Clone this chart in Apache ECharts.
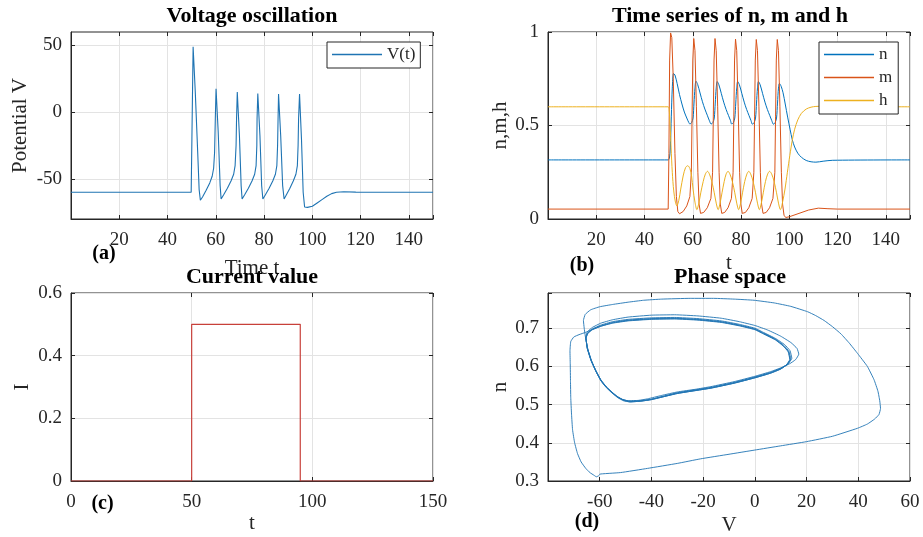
<!DOCTYPE html>
<html>
<head>
<meta charset="utf-8">
<script src="https://cdn.jsdelivr.net/npm/echarts@6/dist/echarts.min.js"></script>
<style>
  html, body { margin: 0; padding: 0; background: #fff; }
  #chart { width: 923px; height: 537px; }
</style>
</head>
<body>
<div id="chart"></div>
<script>
// (a) membrane potential V(t) as [t, V]
const voltage = [
  [0, -60], [49.8, -60], [50.1, -20], [50.6, 49], [51.5, 15], [52.5, -30], [53.1, -58], [53.6, -66],
  [54.5, -63.5], [56, -58.5], [57.5, -53], [58.5, -48], [59.1, -42], [59.5, -30], [59.8, -5], [60.1, 17.5],
  [61, -15], [61.8, -55], [62.2, -65],
  [63.2, -62], [64.8, -57], [66.3, -51.5], [67.4, -46.5], [68, -40], [68.4, -25], [68.6, -5], [68.9, 15],
  [69.8, -18], [70.5, -55], [70.9, -65],
  [71.9, -62], [73.5, -57], [75, -51.5], [76.1, -46.5], [76.7, -40], [77, -25], [77.1, -5], [77.4, 14],
  [78.3, -18], [79, -55], [79.5, -65],
  [80.5, -62], [82.1, -57], [83.6, -51.5], [84.7, -46.5], [85.3, -40], [85.6, -25], [85.8, -5], [86, 13.5],
  [86.9, -18], [87.7, -55], [88.3, -65],
  [89.2, -62], [90.7, -57], [92.1, -51.5], [93.2, -46.5], [93.8, -40], [94.1, -25], [94.3, -5], [94.7, 13.5],
  [95.5, -20], [96.2, -60], [96.8, -71], [98, -71.3], [100, -70.5], [102, -68], [104, -65.5], [106, -63],
  [108, -61], [110, -60], [113, -59.6], [118, -59.9], [150, -60]
];

// (b) gating variables [t, value]
const gateN = [
  [0, 0.316], [49.8, 0.316], [50.3, 0.325], [50.7, 0.38], [51.1, 0.55], [51.5, 0.7], [52, 0.778], [52.6, 0.77],
  [53.5, 0.725], [54.5, 0.665], [55.5, 0.615], [56.5, 0.572], [57.5, 0.54], [58.3, 0.517], [58.8, 0.508],
  [59.5, 0.515], [60.1, 0.54], [60.5, 0.62], [60.9, 0.7], [61.3, 0.737],
  [62, 0.72], [63, 0.674], [64, 0.627], [65, 0.588], [66, 0.555], [66.9, 0.525], [67.6, 0.508], [68.3, 0.515],
  [68.9, 0.54], [69.3, 0.62], [69.7, 0.7], [70.1, 0.735],
  [70.8, 0.718], [71.8, 0.672], [72.8, 0.625], [73.8, 0.586], [74.8, 0.553], [75.6, 0.527], [76.1, 0.508],
  [76.8, 0.515], [77.4, 0.54], [77.8, 0.62], [78.2, 0.7], [78.6, 0.735],
  [79.3, 0.718], [80.3, 0.672], [81.3, 0.625], [82.3, 0.586], [83.3, 0.553], [84.1, 0.527], [84.7, 0.507],
  [85.4, 0.515], [86, 0.54], [86.4, 0.62], [86.8, 0.7], [87.2, 0.735],
  [87.9, 0.718], [88.9, 0.672], [89.9, 0.625], [90.9, 0.586], [91.9, 0.553], [92.7, 0.527], [93.4, 0.507],
  [94.1, 0.515], [94.7, 0.54], [95.1, 0.62], [95.5, 0.7], [95.9, 0.725],
  [96.6, 0.71], [97.4, 0.675], [98.3, 0.615], [99.3, 0.545], [100.3, 0.48], [101.2, 0.425], [102.2, 0.385],
  [103.5, 0.352], [105, 0.33], [107, 0.313], [109, 0.306], [111, 0.304], [114, 0.309], [118, 0.314], [150, 0.316]
];

const gateM = [
  [0, 0.053], [49.8, 0.053], [50.1, 0.35], [50.4, 0.85], [50.8, 0.995], [51.3, 0.97], [51.9, 0.75], [52.6, 0.35],
  [53.2, 0.12], [53.8, 0.04], [54.5, 0.028], [56, 0.04], [57.5, 0.07], [58.8, 0.12],
  [59.4, 0.25], [59.7, 0.55], [60, 0.85], [60.4, 0.965], [60.9, 0.9], [61.5, 0.6], [62.1, 0.25], [62.6, 0.08],
  [63.2, 0.03], [64.5, 0.035], [66, 0.06], [67.5, 0.11],
  [68.2, 0.25], [68.5, 0.55], [68.8, 0.85], [69.2, 0.965], [69.7, 0.9], [70.3, 0.6], [70.9, 0.25], [71.4, 0.08],
  [72, 0.03], [73.2, 0.035], [74.6, 0.06], [76, 0.11],
  [76.7, 0.25], [77, 0.55], [77.3, 0.85], [77.7, 0.962], [78.2, 0.9], [78.8, 0.6], [79.4, 0.25], [79.9, 0.08],
  [80.5, 0.03], [81.8, 0.035], [83.2, 0.06], [84.6, 0.11],
  [85.3, 0.25], [85.6, 0.55], [85.9, 0.85], [86.3, 0.96], [86.8, 0.9], [87.4, 0.6], [88, 0.25], [88.5, 0.08],
  [89.1, 0.03], [90.4, 0.035], [91.8, 0.06], [93.2, 0.11],
  [94, 0.25], [94.3, 0.55], [94.6, 0.85], [95, 0.96], [95.5, 0.9], [96.1, 0.6], [96.7, 0.25], [97.2, 0.08],
  [97.8, 0.02], [98.5, 0.008], [100, 0.012], [104, 0.03], [108, 0.048], [112, 0.058], [116, 0.055], [120, 0.053], [150, 0.053]
];

const gateH = [
  [0, 0.6], [49.8, 0.6], [50.2, 0.585], [50.6, 0.5], [51, 0.38], [51.5, 0.25], [52.1, 0.15], [52.8, 0.09], [53.4, 0.07],
  [54.2, 0.1], [55, 0.16], [56, 0.23], [57, 0.275], [57.9, 0.285], [58.8, 0.27], [59.5, 0.23], [60.1, 0.16], [60.9, 0.09], [61.7, 0.05],
  [62.5, 0.085], [63.3, 0.14], [64.3, 0.2], [65.2, 0.24], [66.1, 0.255], [66.9, 0.24], [67.9, 0.2], [68.9, 0.14], [69.7, 0.085], [70.5, 0.05],
  [71.3, 0.085], [72.1, 0.14], [73, 0.2], [73.8, 0.24], [74.6, 0.255], [75.4, 0.24], [76.4, 0.2], [77.4, 0.14], [78.2, 0.085], [79, 0.05],
  [79.8, 0.085], [80.6, 0.14], [81.5, 0.2], [82.4, 0.24], [83.2, 0.255], [84, 0.24], [85, 0.2], [86, 0.14], [86.8, 0.085], [87.6, 0.05],
  [88.4, 0.085], [89.2, 0.14], [90.1, 0.2], [91, 0.24], [91.8, 0.255], [92.7, 0.24], [93.7, 0.2], [94.7, 0.14], [95.5, 0.085], [96.3, 0.05],
  [97.2, 0.09], [98.2, 0.16], [99.2, 0.25], [100.2, 0.34], [101.2, 0.42], [102.2, 0.48], [103.5, 0.53], [105, 0.565],
  [107, 0.588], [109, 0.598], [111, 0.602], [114, 0.603], [118, 0.601], [150, 0.6]
];

// (c) applied current, a step
const currentT = [0, 50, 50, 95, 95, 150];
const currentI = [0, 0, 0.5, 0.5, 0, 0];

// (d) trajectory in the (V, n) plane, in time order
const phase = [
  [-60, 0.316], [-60, 0.318], [-52, 0.322], [-41.5, 0.333], [-30, 0.346], [-21, 0.358], [-10, 0.37], [0, 0.381],
  [10, 0.392], [20, 0.403], [30, 0.417], [39.7, 0.438], [43.5, 0.449], [46.3, 0.462], [48, 0.474], [48.6, 0.49],
  [48.3, 0.51], [47.6, 0.535], [46.1, 0.565], [43.5, 0.6], [39.7, 0.634], [36.5, 0.661], [33.3, 0.685], [30, 0.704],
  [26.8, 0.72], [23.5, 0.733], [20.4, 0.743], [13.9, 0.757], [7.5, 0.766], [-0.3, 0.773], [-8, 0.776], [-16, 0.778],
  [-25, 0.778], [-36, 0.776], [-43, 0.773], [-49, 0.768], [-55, 0.762], [-60, 0.756], [-63.5, 0.748], [-65.6, 0.736],
  [-66.3, 0.72], [-66, 0.7], [-65.6, 0.68],
  // loop 2
  [-64.6, 0.645], [-63.2, 0.615], [-61.5, 0.588], [-59.6, 0.563], [-57.6, 0.546], [-55.5, 0.533], [-53.5, 0.522],
  [-51.5, 0.514], [-49, 0.51], [-45, 0.511], [-41.5, 0.515], [-36, 0.524], [-30, 0.533], [-23, 0.54], [-17, 0.547],
  [-8, 0.56], [0, 0.574], [6, 0.586], [10, 0.596], [13.5, 0.607], [15.8, 0.618], [17, 0.632],
  [16.3, 0.647], [14, 0.662], [10, 0.679], [5, 0.695], [0, 0.707], [-6, 0.717], [-13, 0.726], [-22, 0.732],
  [-31, 0.735], [-40, 0.734], [-49, 0.729], [-55, 0.722], [-59.6, 0.713], [-62.8, 0.702], [-64.7, 0.691], [-65.4, 0.678],
  // loop 3
  [-64.8, 0.65], [-63.4, 0.618], [-61.6, 0.59], [-59.6, 0.565], [-57.5, 0.547], [-55.3, 0.533], [-53.2, 0.521],
  [-51, 0.513], [-48.5, 0.509], [-44, 0.51], [-40, 0.514], [-30, 0.531], [-17, 0.545], [-8, 0.558], [0, 0.572],
  [6, 0.584], [10, 0.595], [12.8, 0.606], [14.3, 0.621],
  [13.6, 0.641], [11.5, 0.657], [8, 0.673], [3, 0.69], [0, 0.7], [-6, 0.71], [-13, 0.719], [-22, 0.725], [-31, 0.728],
  [-40, 0.727], [-49, 0.723], [-55, 0.717], [-59.6, 0.708], [-62.8, 0.698], [-64.6, 0.688], [-65.3, 0.675],
  // loop 4
  [-64.8, 0.648], [-63.3, 0.616], [-61.5, 0.589], [-59.5, 0.564], [-57.4, 0.546], [-55.2, 0.532], [-53, 0.52],
  [-50.8, 0.512], [-48.3, 0.508], [-44, 0.51], [-40, 0.514], [-30, 0.53], [-17, 0.544], [-8, 0.557], [0, 0.571],
  [6, 0.583], [10, 0.594], [12.5, 0.605], [13.9, 0.619],
  [13.2, 0.639], [11.2, 0.655], [8, 0.671], [3, 0.688], [0, 0.698], [-6, 0.708], [-13, 0.717], [-22, 0.723],
  [-31, 0.726], [-40, 0.725], [-49, 0.721], [-55, 0.715], [-59.6, 0.706], [-62.8, 0.697], [-64.6, 0.687], [-65.3, 0.674],
  // loop 5
  [-64.8, 0.647], [-63.3, 0.615], [-61.5, 0.588], [-59.5, 0.563], [-57.4, 0.545], [-55.2, 0.531], [-53, 0.519],
  [-50.8, 0.511], [-48.3, 0.507], [-44, 0.509], [-40, 0.513], [-30, 0.529], [-17, 0.543], [-8, 0.556], [0, 0.57],
  [6, 0.582], [10, 0.593], [12.3, 0.604], [13.6, 0.618],
  [13, 0.638], [11, 0.654], [8, 0.67], [3, 0.687], [0, 0.697], [-6, 0.707], [-13, 0.716], [-22, 0.722], [-31, 0.725],
  [-40, 0.724], [-49, 0.72], [-55, 0.714], [-59.6, 0.705], [-62.8, 0.696], [-64.6, 0.686], [-65.3, 0.673],
  // loop 6 and recovery
  [-64.8, 0.646], [-63.3, 0.614], [-61.5, 0.587], [-59.5, 0.562], [-57.4, 0.544], [-55.2, 0.53], [-53, 0.518],
  [-50.8, 0.51], [-48.3, 0.507], [-44, 0.509], [-40, 0.513], [-30, 0.529], [-17, 0.543], [-8, 0.556], [0, 0.57],
  [6, 0.582], [10, 0.593], [12.2, 0.604], [13.5, 0.618],
  [12.9, 0.638], [11, 0.653], [8, 0.669], [3, 0.686], [0, 0.696], [-6, 0.706], [-13, 0.715], [-22, 0.721], [-31, 0.724],
  [-40, 0.723], [-49, 0.719], [-55, 0.713], [-59.6, 0.705], [-63, 0.696], [-65.5, 0.689], [-68, 0.683], [-70, 0.677],
  [-71.2, 0.665], [-71.5, 0.64], [-71.4, 0.607], [-71.3, 0.56], [-71.2, 0.519], [-70.9, 0.475], [-70.5, 0.434],
  [-69.7, 0.4], [-68.6, 0.372], [-67.2, 0.35], [-65.4, 0.333], [-63.8, 0.322], [-62.2, 0.315], [-61.3, 0.311],
  [-60.6, 0.313], [-60.2, 0.315], [-60, 0.316]
];

// tick labels
const timeTicksA = [20, 40, 60, 80, 100, 120, 140];
const voltTicks = [-50, 0, 50];

const FONT = '"Liberation Serif", "Times New Roman", serif';
const INK = '#262626';
const GRIDLINE = '#e3e3e3';

function axis(o) {
  return {
    type: 'value',
    gridIndex: o.grid,
    min: o.min,
    max: o.max,
    interval: o.interval,
    name: o.name,
    nameLocation: 'middle',
    nameGap: o.gap,
    nameTextStyle: { color: INK, fontFamily: FONT, fontSize: 21 },
    axisLine: { show: true, onZero: false, lineStyle: { color: INK, width: 1 } },
    axisTick: { show: true, inside: true, length: 4, lineStyle: { color: INK }, customValues: o.ticks },
    splitLine: { show: true, lineStyle: { color: GRIDLINE, width: 1 } },
    axisLabel: {
      color: INK, fontFamily: FONT, fontSize: 19, margin: o.margin,
      formatter: o.fmt, customValues: o.ticks
    }
  };
}

// mirror axis on the opposite side: only inward ticks, like a boxed plot
function mirror(o, pos) {
  return {
    type: 'value', gridIndex: o.grid, position: pos,
    min: o.min, max: o.max, interval: o.interval,
    axisLine: { show: false, onZero: false },
    axisTick: { show: true, inside: true, length: 4, lineStyle: { color: INK }, customValues: o.ticks },
    splitLine: { show: false },
    axisLabel: { show: false }
  };
}

function line(name, data, x, y, color, width, smooth) {
  return {
    name: name, type: 'line', xAxisIndex: x, yAxisIndex: y, data: data,
    symbol: 'none', showSymbol: false, smooth: smooth || false, clip: true,
    lineStyle: { color: color, width: width }, itemStyle: { color: color },
    emphasis: { disabled: true }, animation: false
  };
}

function text(str, x, y, bold, size) {
  return {
    type: 'text', x: x, y: y, z: 50,
    style: {
      text: str, fill: '#000', align: 'center', verticalAlign: 'middle',
      font: (bold ? 'bold ' : '') + size + 'px ' + FONT
    }
  };
}

const xs = [
  { grid: 0, min: 0, max: 150, interval: 20, name: 'Time t', gap: 39, margin: 12,
    fmt: function (v) { return timeTicksA.indexOf(v) >= 0 ? String(v) : ''; } },
  { grid: 1, min: 0, max: 150, interval: 20, name: 't', gap: 34, margin: 12,
    fmt: function (v) { return timeTicksA.indexOf(v) >= 0 ? String(v) : ''; } },
  { grid: 2, min: 0, max: 150, interval: 50, name: 't', gap: 29, margin: 12 },
  { grid: 3, min: -80, max: 60, interval: 20, name: 'V', gap: 34, margin: 12,
    fmt: function (v) { return v === -80 ? '' : String(v); } }
];
const ys = [
  { grid: 0, min: -80, max: 60, name: 'Potential V', gap: 40, margin: 9, ticks: voltTicks },
  { grid: 1, min: 0, max: 1, interval: 0.5, name: 'n,m,h', gap: 32, margin: 9 },
  { grid: 2, min: 0, max: 0.6, interval: 0.2, name: 'I', gap: 38, margin: 9 },
  { grid: 3, min: 0.3, max: 0.792, interval: 0.1, name: 'n', gap: 37, margin: 9,
    fmt: function (v) {
      const k = Math.round(v * 10);
      return (Math.abs(v * 10 - k) < 1e-6 && k <= 7) ? (k / 10).toFixed(1) : '';
    } }
];

const legendBase = {
  orient: 'vertical', backgroundColor: '#fff', borderColor: INK, borderWidth: 1, borderRadius: 0,
  icon: 'rect', itemWidth: 50, itemHeight: 1.4, itemGap: 6,
  textStyle: { fontFamily: FONT, fontSize: 17, color: INK, lineHeight: 17 }
};

const chart = echarts.init(document.getElementById('chart'));

chart.setOption({
  backgroundColor: '#fff',
  animation: false,
  grid: [
    { left: 71, top: 32, width: 362, height: 187, show: true, borderColor: INK, borderWidth: 1, backgroundColor: '#fff' },
    { left: 548, top: 32, width: 362, height: 187, show: true, borderColor: INK, borderWidth: 1, backgroundColor: '#fff' },
    { left: 71, top: 293, width: 362, height: 188, show: true, borderColor: INK, borderWidth: 1, backgroundColor: '#fff' },
    { left: 548, top: 293, width: 362, height: 188, show: true, borderColor: INK, borderWidth: 1, backgroundColor: '#fff' }
  ],
  xAxis: xs.map(axis).concat(xs.map(function (o) { return mirror(o, 'top'); })),
  yAxis: ys.map(axis).concat(ys.map(function (o) { return mirror(o, 'right'); })),
  legend: [
    Object.assign({}, legendBase, { data: ['V(t)'], left: 327, top: 42, padding: [4, 5, 5, 5] }),
    Object.assign({}, legendBase, { data: ['n', 'm', 'h'], left: 819, top: 42, padding: [4, 6, 5, 5] })
  ],
  graphic: [
    text('Voltage oscillation', 252, 16, true, 22),
    text('Time series of n, m and h', 730, 16, true, 22),
    text('Current value', 252, 277, true, 22),
    text('Phase space', 730, 277, true, 22),
    text('(a)', 104, 254, true, 20),
    text('(b)', 582, 266, true, 20),
    text('(c)', 102.5, 504, true, 20),
    text('(d)', 587, 522, true, 20)
  ],
  series: [
    line('V(t)', voltage, 0, 0, '#1f74b3', 1.1),
    line('n', gateN, 1, 1, '#0072BD', 1, 0.3),
    line('m', gateM, 1, 1, '#D95319', 1),
    line('h', gateH, 1, 1, '#EDB120', 1, 0.3),
    line('I', currentT.map(function (t, i) { return [t, currentI[i]]; }), 2, 2, '#c8403a', 1.2),
    line('phase', phase, 3, 3, '#1f74b3', 0.9, 0.12)
  ]
});
</script>
</body>
</html>
